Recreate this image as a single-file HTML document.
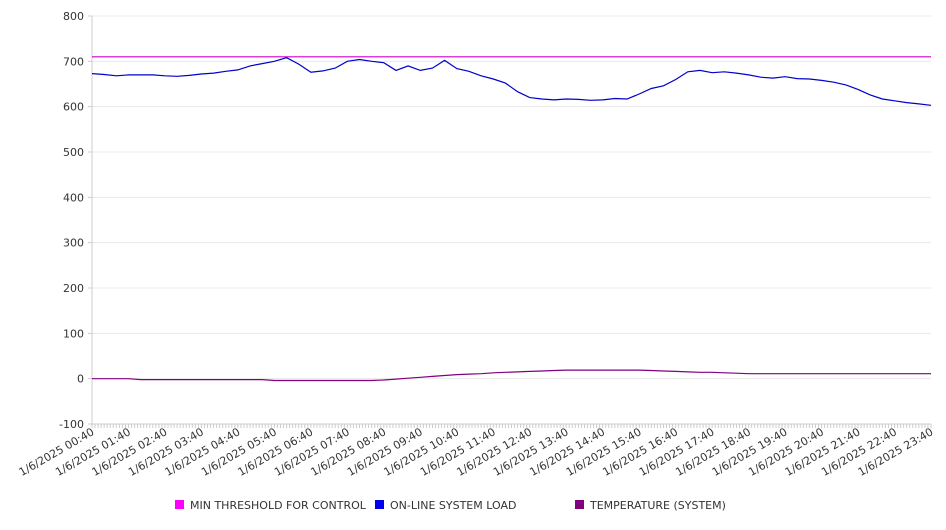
<!DOCTYPE html>
<html><head><meta charset="utf-8"><style>
body{margin:0;background:#fff;font-family:"DejaVu Sans","Liberation Sans",sans-serif;}
svg text{font-family:"DejaVu Sans","Liberation Sans",sans-serif;fill:#333;}
</style></head><body>
<svg id="chart" width="946" height="526" xmlns="http://www.w3.org/2000/svg">
<g id="grid"></g>
<g id="yaxis"></g>
<g id="xaxis"></g>
<g id="series"></g>
<g font-size="11">
 <g><rect x="175" y="500" width="9" height="9" fill="#ff00ff"/><text x="190" y="509" font-size="11">MIN THRESHOLD FOR CONTROL</text></g>
 <g><rect x="375" y="500" width="9" height="9" fill="#0000ee"/><text x="390" y="509" font-size="11">ON-LINE SYSTEM LOAD</text></g>
 <g><rect x="575" y="500" width="9" height="9" fill="#800080"/><text x="590" y="509" font-size="11">TEMPERATURE (SYSTEM)</text></g>
</g>
</svg>
<script>
const yTicks=[-100,0,100,200,300,400,500,600,700,800];
const xLabels=["00:40","01:40","02:40","03:40","04:40","05:40","06:40","07:40","08:40","09:40","10:40","11:40","12:40","13:40","14:40","15:40","16:40","17:40","18:40","19:40","20:40","21:40","22:40","23:40"];
const threshold=[710,710];
const load=[673,671,668,670,670,670,668,667,669,672,674,678,681,690,695,700,708,694,676,679,685,700,704,700,697,680,690,680,685,702,684,678,668,661,652,633,620,617,615,617,616,614,615,618,617,628,640,646,660,677,680,675,677,674,670,665,663,666,662,661,658,654,648,638,626,617,613,609,606,603];
const temperature=[0,0,0,0,-2,-2,-2,-2,-2,-2,-2,-2,-2,-2,-2,-4,-4,-4,-4,-4,-4,-4,-4,-4,-3,-1,1,3,5,7,9,10,11,13,14,15,16,17,18,19,19,19,19,19,19,19,18,17,16,15,14,14,13,12,11,11,11,11,11,11,11,11,11,11,11,11,11,11,11,11];
const stepMin=20, startMin=40, spanMin=1380;
const X0=92,X1=931,Y0=424,Y1=16;
const xs=m=>X0+(m-startMin)/spanMin*(X1-X0);
const ys=v=>Y0-(v+100)/900*(Y0-Y1);
const NS="http://www.w3.org/2000/svg";
function mk(t,a,p){const e=document.createElementNS(NS,t);for(const k in a)e.setAttribute(k,a[k]);p.appendChild(e);return e;}
const grid=document.getElementById('grid'),yax=document.getElementById('yaxis'),xax=document.getElementById('xaxis'),ser=document.getElementById('series');
yTicks.forEach(v=>{
 const l=mk('line',{x1:X0,x2:X1,y1:ys(v),y2:ys(v),stroke:'#e8e8e8'},grid);
 
 
 const t=mk('text',{x:84,y:ys(v)+4,'text-anchor':'end','font-size':11},yax);
 t.textContent=v;
 
 
 mk('line',{x1:88,x2:92,y1:ys(v),y2:ys(v),stroke:'#ccc'},yax);
});
mk('line',{x1:X0,x2:X0,y1:Y1,y2:Y0,stroke:'#ccc'},yax);
mk('line',{x1:X0,x2:X1,y1:Y0,y2:Y0,stroke:'#ccc'},xax);
for(let m=startMin;m<=startMin+spanMin;m+=5){mk('line',{x1:xs(m),x2:xs(m),y1:Y0,y2:Y0+4,stroke:'#ccc'},xax);}
xLabels.forEach((lab,i)=>{
 const x=xs(startMin+i*60);
 const t=mk('text',{transform:`translate(${x+3},${Y0+10}) rotate(-30)`,'text-anchor':'end','font-size':11},xax);
 t.textContent='1/6/2025 '+lab;
 
 
});
function line(arr,times,color,name){
 const d=arr.map((v,i)=>(i?'L':'M')+xs(times[i]).toFixed(1)+','+ys(v).toFixed(1)).join('');
 const p=mk('path',{d,fill:'none',stroke:color,'stroke-width':1.2},ser);
 
 
}
line(threshold,[startMin,startMin+spanMin],'#cc00cc','threshold-line');
line(temperature,temperature.map((_,i)=>startMin+i*stepMin),'#800080','temperature-line');
line(load,load.map((_,i)=>startMin+i*stepMin),'#0000cc','load-line');
</script>
</body></html>
